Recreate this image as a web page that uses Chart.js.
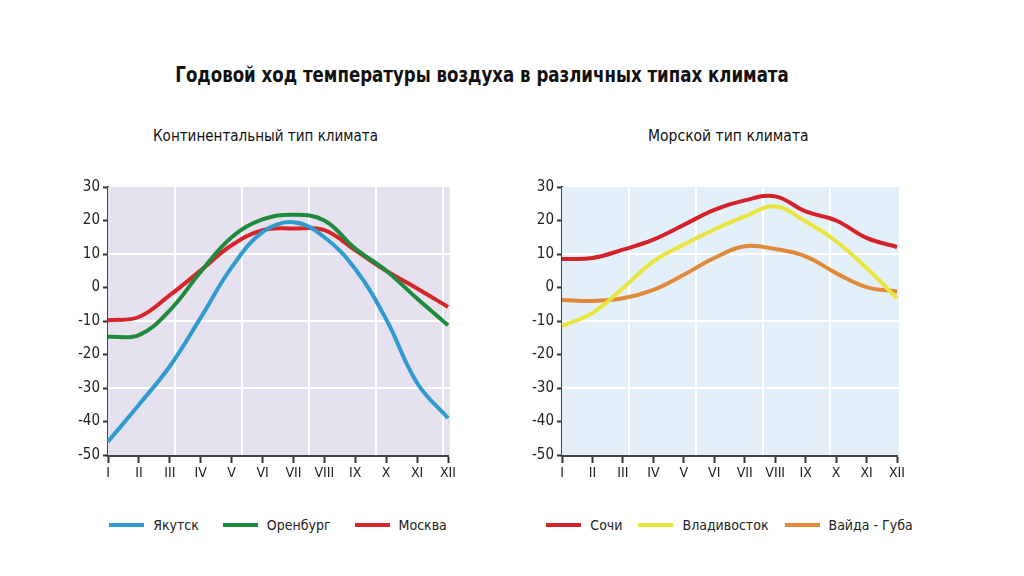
<!DOCTYPE html>
<html>
<head>
<meta charset="utf-8">
<script src="https://cdn.jsdelivr.net/npm/chart.js@4/dist/chart.umd.min.js"></script>
<style>
  body { margin: 0; background: #fff; width: 1024px; height: 576px; position: relative; overflow: hidden; }
  .txt { position: absolute; font-family: 'Liberation Sans Narrow', 'DejaVu Sans Condensed', sans-serif; color: #111; white-space: nowrap; }
  #title { left: 0; width: 964px; top: 62px; text-align: center; font-size: 22px; font-weight: bold; transform: scaleX(0.84); transform-origin: 482px 0; }
  #sub1 { left: 153px; top: 126px; font-size: 16px; transform: scaleX(0.94); transform-origin: 0 0; }
  #sub2 { left: 648px; top: 126px; font-size: 16px; transform: scaleX(0.97); transform-origin: 0 0; }
  canvas { position: absolute; }
  #left { left: 58px; top: 170px; }
  #right { left: 512px; top: 170px; }
  .legend { position: absolute; top: 515px; height: 20px; display: flex; justify-content: center; align-items: center;
            font-family: 'Liberation Sans Narrow', 'DejaVu Sans Condensed', sans-serif; font-size: 14px; color: #222; white-space: nowrap; }
  .legend .item { display: flex; align-items: center; }
  .legend .box { width: 35px; height: 4px; margin-right: 9px; }
</style>
</head>
<body>
<div id="title" class="txt">Годовой ход температуры воздуха в различных типах климата</div>
<div id="sub1" class="txt">Континентальный тип климата</div>
<div id="sub2" class="txt">Морской тип климата</div>
<canvas id="left" width="402" height="315"></canvas>
<canvas id="right" width="400" height="315"></canvas>
<div id="legend-left" class="legend"></div>
<div id="legend-right" class="legend"></div>
<script>
// Data
const months = ['I', 'II', 'III', 'IV', 'V', 'VI', 'VII', 'VIII', 'IX', 'X', 'XI', 'XII'];
const yakutsk  = [-46, -35, -23.5, -9, 6, 16.5, 19.5, 15, 5.5, -9.5, -28.5, -39];
const orenburg = [-14.7, -14.2, -6.8, 4.7, 15, 20.3, 21.7, 20, 11.6, 5, -3.3, -11.3];
const moskva   = [-9.8, -8.8, -2.3, 5.1, 12.6, 17.1, 17.6, 17.1, 11.1, 5, -0.3, -5.8];
const sochi       = [8.5, 8.8, 11.3, 14.3, 18.7, 23.2, 26, 27.2, 22.7, 20, 14.8, 12.1];
const vladivostok = [-11.5, -7.6, -0.2, 7.8, 12.8, 17.3, 21.2, 24.2, 19.7, 13.8, 5.8, -3.2];
const vaidaGuba   = [-3.7, -4, -3.2, -0.7, 3.8, 8.8, 12.3, 11.5, 9.3, 4.3, 0.1, -1.2];
const yTicks = { min: -50, max: 30, step: 10 };
const gridValues = [10, -10, -30];

const FONT = "'Liberation Sans Narrow', 'DejaVu Sans Condensed', sans-serif";

// Plot background + white square grid
const plotBg = {
    id: 'plotBg',
    beforeDatasetsDraw(chart, args, opts) {
        const { ctx, chartArea: a, scales } = chart;
        const y = scales.y;
        ctx.save();
        ctx.fillStyle = opts.color;
        ctx.fillRect(a.left, a.top, a.right - a.left + 2, a.bottom - a.top);
        ctx.strokeStyle = '#ffffff';
        ctx.lineWidth = 2;
        gridValues.forEach(v => {
            const py = y.getPixelForValue(v);
            ctx.beginPath();
            ctx.moveTo(a.left, py);
            ctx.lineTo(a.right + 2, py);
            ctx.stroke();
        });
        const gap = y.getPixelForValue(10) - y.getPixelForValue(30);
        for (let px = a.left + gap; px < a.right; px += gap) {
            ctx.beginPath();
            ctx.moveTo(px, a.top);
            ctx.lineTo(px, a.bottom);
            ctx.stroke();
        }
        ctx.restore();
    }
};

function series(label, data, color) {
    return {
        label, data,
        borderColor: color,
        backgroundColor: color,
        borderWidth: 4,
        pointRadius: 0,
        tension: 0.4,
        fill: false
    };
}

// HTML legend centred under the plot area
function buildLegend(chart, elId, itemGap) {
    const el = document.getElementById(elId);
    const a = chart.chartArea;
    const canvasLeft = chart.canvas.offsetLeft;
    const center = canvasLeft + (a.left + a.right) / 2;
    const width = 420;
    el.style.left = (center - width / 2) + 'px';
    el.style.width = width + 'px';
    el.style.columnGap = itemGap + 'px';
    chart.data.datasets.forEach(ds => {
        const item = document.createElement('div');
        item.className = 'item';
        const box = document.createElement('span');
        box.className = 'box';
        box.style.background = ds.borderColor;
        const label = document.createElement('span');
        label.textContent = ds.label;
        item.appendChild(box);
        item.appendChild(label);
        el.appendChild(item);
    });
}

function makeChart(id, datasets, bg, padRight) {
    return new Chart(document.getElementById(id), {
        type: 'line',
        data: { labels: months, datasets },
        options: {
            responsive: false,
            animation: false,
            layout: { padding: { top: 17, right: padRight, bottom: 0, left: 0 } },
            scales: {
                x: {
                    type: 'category',
                    offset: false,
                    afterFit: s => { s.height = 30; },
                    grid: { drawOnChartArea: false, offset: false, tickLength: 8, tickColor: '#333', tickWidth: 2 },
                    border: { display: true, color: '#444', width: 3 },
                    ticks: { color: '#222', padding: 2, maxRotation: 0, autoSkip: false, font: { family: FONT, size: 14 } }
                },
                y: {
                    min: yTicks.min, max: yTicks.max,
                    afterFit: s => { s.width = 50; },
                    grid: { drawOnChartArea: false, tickLength: 5, tickColor: '#333', tickWidth: 2 },
                    border: { display: true, color: '#444', width: 2 },
                    ticks: { stepSize: yTicks.step, color: '#222', padding: 3, font: { family: FONT, size: 15 } }
                }
            },
            plugins: {
                plotBg: { color: bg },
                tooltip: { enabled: false },
                legend: { display: false }
            }
        },
        plugins: [plotBg]
    });
}

const leftChart = makeChart('left', [
    series('Якутск', yakutsk, '#2f9bcf'),
    series('Оренбург', orenburg, '#1e8a3e'),
    series('Москва', moskva, '#d6262c')
], '#e6e1ee', 12);

const rightChart = makeChart('right', [
    series('Сочи', sochi, '#d4222a'),
    series('Владивосток', vladivostok, '#e9e43c'),
    series('Вайда - Губа', vaidaGuba, '#e0893a')
], '#e3f0f9', 15);

buildLegend(leftChart, 'legend-left', 24);
buildLegend(rightChart, 'legend-right', 16);
</script>
</body>
</html>
